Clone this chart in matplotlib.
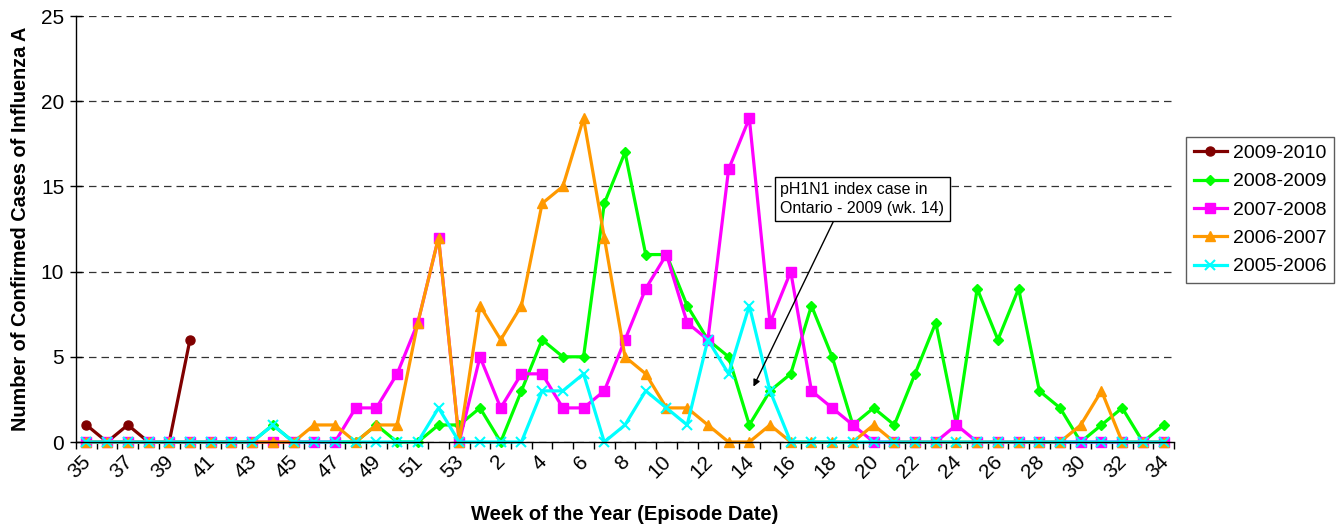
import matplotlib
matplotlib.use("Agg")
import matplotlib.pyplot as plt
import matplotlib.transforms as mtransforms
import numpy as np

plt.rcParams['font.family'] = ['Liberation Sans', 'DejaVu Sans']

weeks = [str(w) for w in list(range(35, 54)) + list(range(1, 35))]

s2009_2010 = [1, 0, 1, 0, 0, 6]
s2008_2009 = [0, 0, 0, 0, 0, 0, 0, 0, 0, 1, 0, 0, 0, 0, 1, 0, 0, 1, 1, 2,
              0, 3, 6, 5, 5, 14, 17, 11, 11, 8, 6, 5, 1, 3, 4, 8, 5, 1, 2, 1,
              4, 7, 1, 9, 6, 9, 3, 2, 0, 1, 2, 0, 1]
s2007_2008 = [0, 0, 0, 0, 0, 0, 0, 0, 0, 0, 0, 0, 0, 2, 2, 4, 7, 12, 0, 5,
              2, 4, 4, 2, 2, 3, 6, 9, 11, 7, 6, 16, 19, 7, 10, 3, 2, 1, 0, 0,
              0, 0, 1, 0, 0, 0, 0, 0, 0, 0, 0, 0, 0]
s2006_2007 = [0, 0, 0, 0, 0, 0, 0, 0, 0, 0, 0, 1, 1, 0, 1, 1, 7, 12, 0, 8,
              6, 8, 14, 15, 19, 12, 5, 4, 2, 2, 1, 0, 0, 1, 0, 0, 0, 0, 1, 0,
              0, 0, 0, 0, 0, 0, 0, 0, 1, 3, 0, 0, 0]
s2005_2006 = [0, 0, 0, 0, 0, 0, 0, 0, 0, 1, 0, 0, 0, 0, 0, 0, 0, 2, 0, 0,
              0, 0, 3, 3, 4, 0, 1, 3, 2, 1, 6, 4, 8, 3, 0, 0, 0, 0, 0, 0,
              0, 0, 0, 0, 0, 0, 0, 0, 0, 0, 0, 0, 0]

series = [
    ("2009-2010", s2009_2010, "#800000", "o", 6.5),
    ("2008-2009", s2008_2009, "#00FF00", "D", 5.5),
    ("2007-2008", s2007_2008, "#FF00FF", "s", 6.5),
    ("2006-2007", s2006_2007, "#FF9900", "^", 7),
    ("2005-2006", s2005_2006, "#00FFFF", "x", 7),
]

fig = plt.figure(figsize=(13.42, 5.24), dpi=100)
ax = fig.add_axes([76/1342, 1 - 442/524, (1174-76)/1342, (442-16)/524])

for label, vals, color, marker, ms in series:
    x = np.arange(len(vals))
    ax.plot(x, vals, color=color, marker=marker, markersize=ms, linewidth=2.3,
            markeredgewidth=1.5 if marker == "x" else 1, markeredgecolor=color,
            label=label, clip_on=False)

n = len(weeks)
ax.set_xlim(-0.5, n - 0.5)
ax.set_ylim(0, 25)
ax.set_yticks([0, 5, 10, 15, 20, 25])
ax.tick_params(axis='y', labelsize=15, direction='inout', length=9, width=1, pad=4)

major = np.arange(0, n, 2)
ax.set_xticks(major)
ax.set_xticklabels([weeks[i] for i in major], rotation=45, ha='right',
                   rotation_mode='anchor', fontsize=15)
ax.set_xticks(np.arange(-0.5, n, 1), minor=True)
ax.tick_params(axis='x', which='major', length=0, pad=7)
ax.tick_params(axis='x', which='minor', direction='out', length=5, width=1)
offset = mtransforms.ScaledTranslation(-5/100, 0, fig.dpi_scale_trans)
for lbl in ax.get_xticklabels():
    lbl.set_transform(lbl.get_transform() + offset)

ax.grid(axis='y', linestyle=(0, (6, 4)), color='#333333', linewidth=0.9)
ax.set_axisbelow(True)
for sp in ['top', 'right']:
    ax.spines[sp].set_visible(False)
for sp in ['left', 'bottom']:
    ax.spines[sp].set_linewidth(1)
    ax.spines[sp].set_color('black')

ax.set_ylabel("Number of Confirmed Cases of Influenza A", fontsize=14.3,
              fontweight='bold', labelpad=8)
ax.set_xlabel("Week of the Year (Episode Date)", fontsize=14.5,
              fontweight='bold', labelpad=17)

ax.annotate("pH1N1 index case in\nOntario - 2009 (wk. 14)",
            xy=(32.2, 3.25), xytext=(33.5, 15.25), ha='left', va='top',
            fontsize=11.5, linespacing=1.3,
            bbox=dict(boxstyle='square,pad=0.35', fc='white', ec='black', lw=1),
            arrowprops=dict(arrowstyle='-|>', color='black', lw=1,
                            relpos=(0.34, 0), mutation_scale=10,
                            shrinkA=0, shrinkB=0))

leg = fig.legend(loc='center left', bbox_to_anchor=(1186/1342, 1 - 210/524),
                 fontsize=14, frameon=True, fancybox=False, edgecolor='#333333',
                 handlelength=1.7, handletextpad=0.3, labelspacing=0.55,
                 borderpad=0.4, borderaxespad=0)
leg.get_frame().set_linewidth(1)

fig.savefig("out.png", dpi=100)
